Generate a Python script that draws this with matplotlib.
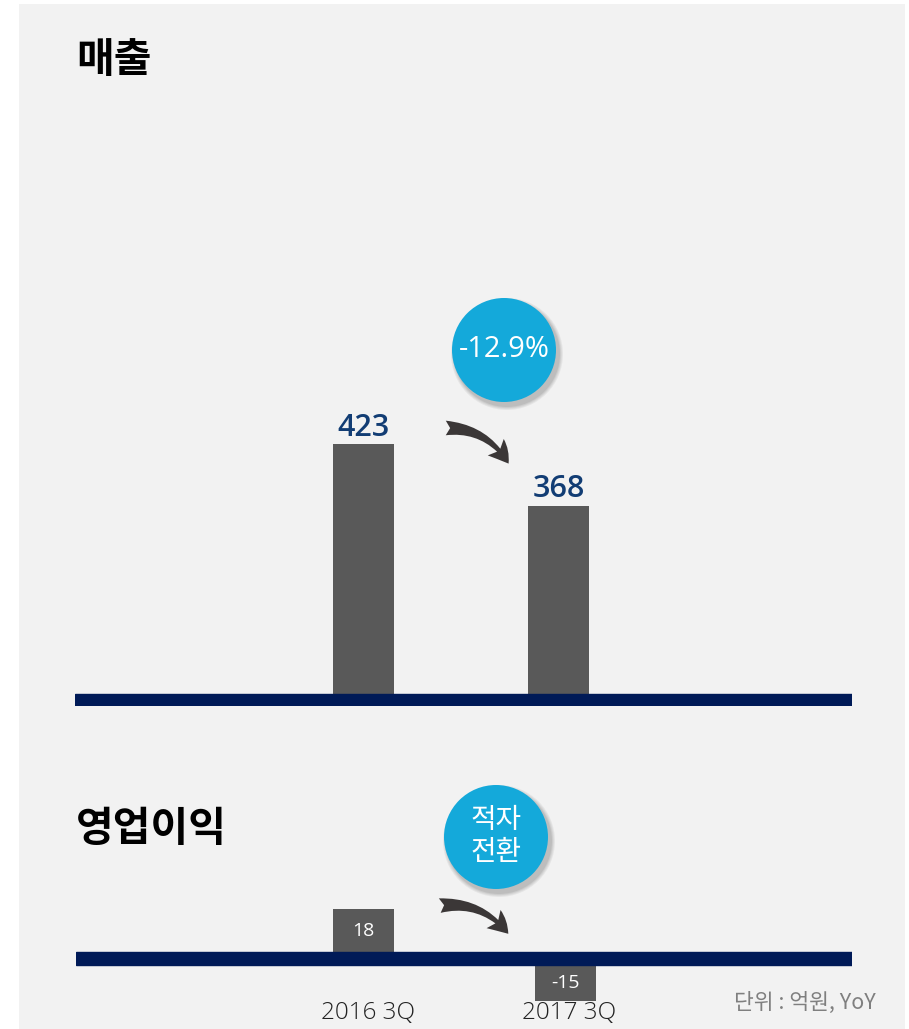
import numpy as np
import matplotlib
matplotlib.use("Agg")
import matplotlib.pyplot as plt
from matplotlib.patches import Rectangle, Circle, FancyArrowPatch

# ---- data ----
periods = ["2016 3Q", "2017 3Q"]
revenue = [423, 368]
op_profit = [18, -15]
revenue_change = "-12.9%"
op_change = "적자\n전환"
title_top = "매출"
title_bottom = "영업이익"
unit_note = "단위 : 억원, YoY"

plt.rcParams['font.family'] = ['Open Sans', 'Noto Sans CJK KR', 'DejaVu Sans']

W, H = 909, 1029
DPI = 100
fig = plt.figure(figsize=(W / DPI, H / DPI), dpi=DPI, facecolor="white")

def fx(px):
    return px / W

def fy(py):
    return 1 - py / H

BG = "#f2f2f2"
BAR = "#595959"
NAVY = "#001a57"
BLUE = "#14a9da"
VALC = "#123d74"
ARROW = "#3b3737"

# panel background
fig.patches.append(Rectangle((fx(19), fy(1029)), fx(905) - fx(19), fy(4) - fy(1029),
                             transform=fig.transFigure, facecolor=BG, edgecolor="none", zorder=-5))

def make_axes(x0, x1, ytop, ybot):
    ax = fig.add_axes([fx(x0), fy(ybot), fx(x1) - fx(x0), fy(ytop) - fy(ybot)])
    ax.set_facecolor("none")
    ax.patch.set_alpha(0)
    for s in ax.spines.values():
        s.set_visible(False)
    ax.tick_params(length=0)
    ax.set_zorder(1)
    return ax

# ---- top: revenue ----
x = np.arange(len(periods))
k1 = 250 / (423 - 200)  # px per unit
base = 200
ax1 = make_axes(75, 852, 100, 706)
c0, step = 363.5, 195.0
ax1.set_xlim(-(c0 - 75) / step, (852 - c0) / step)
ax1.set_ylim(base - 12 / k1, base + (694 - 100) / k1)
ax1.bar(x, revenue, width=61 / step, color=BAR, zorder=2)
ax1.axhspan(base - 12 / k1, base, color=NAVY, zorder=3)
for xi, v in zip(x, revenue):
    ax1.annotate(f"{v}", (xi, v), xytext=(0, 1), textcoords="offset points",
                 ha="center", va="bottom", fontsize=22, color=VALC, zorder=4,
                 fontweight="semibold")
ax1.set_xticks([])
ax1.set_yticks([])

# ---- bottom: operating profit ----
k2 = 43 / 18
ax2 = make_axes(76, 852, 880, 1002)
c0b, step2 = 363.5, 202.0
ax2.set_xlim(-(c0b - 76) / step2, (852 - c0b) / step2)
line_h = 13 / k2
ax2.set_ylim(-(1002 - 952) / k2, (952 - 880) / k2)
op = np.array(op_profit, dtype=float)
bottoms = np.where(op < 0, -line_h, 0.0)
ax2.bar(x, op, bottom=bottoms, width=61 / step2, color=BAR, zorder=2)
ax2.axhspan(-line_h, 0, color=NAVY, zorder=3)
for xi, v, b in zip(x, op_profit, bottoms):
    ax2.text(xi, b + v / 2, f"{v}", ha="center", va="center", fontsize=14,
             color="white", zorder=4)
ax2.set_yticks([])
ax2.set_xticks(x + 0.02)
ax2.set_xticklabels(periods, fontsize=17.5, color="#222222", fontweight="light")
ax2.tick_params(axis="x", pad=-1)

# ---- titles ----
fig.text(fx(76), fy(60), title_top, fontsize=29.5, fontweight="bold", color="black",
         va="center", ha="left", family=['Noto Sans CJK KR'])
fig.text(fx(76), fy(829), title_bottom, fontsize=29.5, fontweight="bold", color="black",
         va="center", ha="left", family=['Noto Sans CJK KR'])
fig.text(fx(876), fy(1003), unit_note, fontsize=15.5, color="#7f7f7f",
         va="center", ha="right", family=['Noto Sans CJK KR', 'Open Sans'], fontweight="light")

# ---- bubbles ----
def bubble(cx, cy, r, label, fs, ls=1.0, weight="normal"):
    t = fig.dpi_scale_trans
    for i, a in enumerate([0.05, 0.05, 0.06, 0.07]):
        fig.patches.append(Circle(((cx + 3) / DPI, (H - cy - 4) / DPI), (r + 4 - i) / DPI,
                                  transform=t, facecolor="black", alpha=a, edgecolor="none", zorder=5))
    fig.patches.append(Circle((cx / DPI, (H - cy) / DPI), r / DPI, transform=t,
                              facecolor=BLUE, edgecolor="none", zorder=6))
    fig.text(fx(cx), fy(cy), label, fontsize=fs, color="white", ha="center", va="center",
             linespacing=ls, zorder=7, fontweight=weight,
             family=['Open Sans', 'Noto Sans CJK KR'])

bubble(504, 350, 52, revenue_change, 21, weight="medium")
bubble(496, 837, 52, op_change, 20, 1.2, weight="medium")

# ---- arrows ----
def arrow(x0, y0, x1, y1):
    t = fig.dpi_scale_trans
    a = FancyArrowPatch((x0 / DPI, (H - y0) / DPI), (x1 / DPI, (H - y1) / DPI), transform=t,
                        connectionstyle="arc3,rad=-0.3",
                        arrowstyle="fancy,head_length=1.0,head_width=1.1,tail_width=0.7",
                        mutation_scale=15, color=ARROW, linewidth=0, zorder=6)
    fig.patches.append(a)

arrow(443, 428, 510, 466)
arrow(437, 906, 510, 936)

fig.savefig("out.png", dpi=DPI, facecolor="white")
